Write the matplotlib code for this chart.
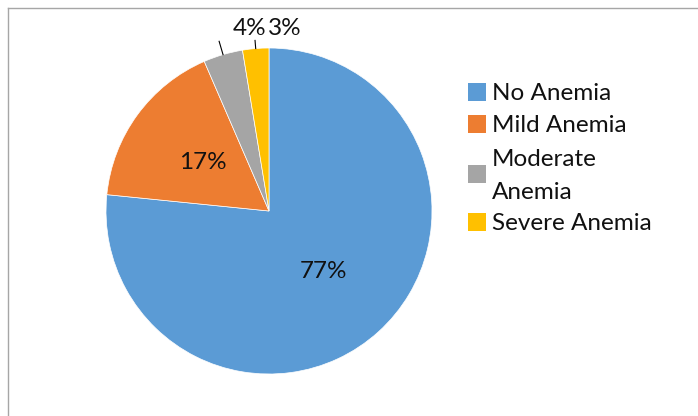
import matplotlib
matplotlib.use("Agg")
import matplotlib.pyplot as plt
import numpy as np
from matplotlib.patches import Rectangle
from matplotlib.lines import Line2D

categories = ["No Anemia", "Mild Anemia", "Moderate\nAnemia", "Severe Anemia"]
values = [76.6, 16.9, 3.9, 2.6]
colors = ["#5B9BD5", "#ED7D31", "#A5A5A5", "#FFC000"]

plt.rcParams['font.family'] = ['Lato', 'DejaVu Sans']
FS = 17.5

W, H = 698, 416
fig = plt.figure(figsize=(W / 100, H / 100), dpi=100)
fig.patch.set_facecolor("white")

# frame lines (top and left visible)
fig.add_artist(Line2D([8 / W, 8 / W], [1 - 8 / H, 0], color="#A6A6A6", lw=1.0, transform=fig.transFigure))
fig.add_artist(Line2D([8 / W, 1], [1 - 8 / H, 1 - 8 / H], color="#A6A6A6", lw=1.0, transform=fig.transFigure))

cx, cy, R = 269, 211, 163
ax = fig.add_axes([(cx - R) / W, (H - cy - R) / H, 2 * R / W, 2 * R / H])
wedges, texts, autotexts = ax.pie(values, colors=colors, startangle=90, counterclock=False,
                                  autopct='%.0f%%', pctdistance=0.5,
                                  wedgeprops=dict(edgecolor="white", linewidth=0.5),
                                  textprops=dict(fontsize=FS, color="#111111"))
ax.set_xlim(-1, 1)
ax.set_ylim(-1, 1)
ax.set_aspect("equal")
ax.axis("off")
for w in wedges:
    w.set_clip_on(False)

# move small labels outside with leader lines
outer_pos = {2: (-0.117, 1.12), 3: (0.095, 1.12)}
line_len = {2: 1.085, 3: 1.05}
for i, (tx, ty) in outer_pos.items():
    w = wedges[i]
    mid = np.deg2rad((w.theta1 + w.theta2) / 2)
    r1, r2 = 1.0, line_len[i]
    ax.plot([r1 * np.cos(mid), r2 * np.cos(mid)], [r1 * np.sin(mid), r2 * np.sin(mid)],
            color="black", lw=0.8, clip_on=False)
    autotexts[i].set_position((tx, ty))
    autotexts[i].set_clip_on(False)

# legend drawn manually
row_y = [92, 124, 174, 222]
sq = 18
for lab, col, y in zip(categories, colors, row_y):
    fig.add_artist(Rectangle((468 / W, (H - y - sq / 2) / H), sq / W, sq / H,
                             facecolor=col, edgecolor="none", transform=fig.transFigure))
    fig.text(492 / W, (H - y - 2) / H, lab, fontsize=FS, va="center", ha="left",
             color="#111111", linespacing=1.75)

fig.savefig("out.png", dpi=100)
